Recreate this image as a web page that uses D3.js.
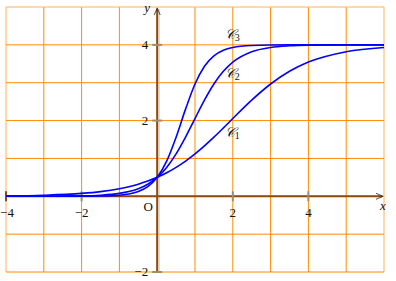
<!DOCTYPE html>
<html lang="en">
<head>
<meta charset="UTF-8">
<script src="https://d3js.org/d3.v7.min.js"></script>
<style>
  body { margin: 0; background: #fff; }
  text { font-family: "Liberation Serif", "DejaVu Serif", serif; font-size: 13px; fill: #111; }
  .grid line { stroke: #ff8c00; stroke-width: 1; }
  .curve { fill: none; stroke: #0000ff; stroke-width: 1.6; }
</style>
</head>
<body>
<svg id="chart" width="396" height="281"></svg>
<script>
const xs = [-4, -3, -2, -1.5, -1, -0.75, -0.5, -0.25, 0, 0.25, 0.5, 0.75, 1, 1.25, 1.5, 1.75, 2, 2.5, 3, 3.5, 4, 5, 6];
const c1 = [0.010, 0.028, 0.076, 0.124, 0.200, 0.253, 0.319, 0.401, 0.5, 0.620, 0.763, 0.929, 1.119, 1.331, 1.562, 1.805, 2.054, 2.540, 2.966, 3.302, 3.546, 3.820, 3.932];
const c2 = [0.000, 0.001, 0.010, 0.028, 0.076, 0.124, 0.200, 0.319, 0.5, 0.763, 1.119, 1.562, 2.054, 2.540, 2.966, 3.302, 3.546, 3.820, 3.932, 3.975, 3.991, 3.999, 4.000];
const c3 = [0.000, 0.000, 0.001, 0.006, 0.028, 0.059, 0.124, 0.253, 0.5, 0.929, 1.562, 2.302, 2.966, 3.435, 3.711, 3.858, 3.932, 3.985, 3.997, 3.999, 4.000, 4.000, 4.000];
const curveNames = ["1", "2", "3"];
const xTicks = [-4, -2, 2, 4];
const yTicks = [-2, 2, 4];

const svg = d3.select("#chart");
const x = d3.scaleLinear().domain([-4, 6]).range([6, 384]);
const y = d3.scaleLinear().domain([-2, 5]).range([272, 7]);
const brown = "#8b4a10";

// grid
const grid = svg.append("g").attr("class", "grid");
grid.selectAll("line.v").data(d3.range(-4, 7)).join("line")
  .attr("class", "v")
  .attr("x1", d => x(d)).attr("x2", d => x(d))
  .attr("y1", y(-2)).attr("y2", y(5))
  .style("stroke", d => (d === -4 || d === 6) ? "#ffb060" : null);
grid.selectAll("line.h").data(d3.range(-2, 6)).join("line")
  .attr("class", "h")
  .attr("y1", d => y(d)).attr("y2", d => y(d))
  .attr("x1", x(-4)).attr("x2", x(6))
  .style("stroke", d => (d === 5) ? "#ffb060" : null);

// axes
svg.append("line").attr("x1", x(0) + 2).attr("x2", x(0) + 2)
  .attr("y1", y(-2)).attr("y2", y(5) + 2)
  .attr("stroke", "#ccc").attr("stroke-width", 1);
svg.append("line").attr("x1", x(-4)).attr("x2", x(6) - 2)
  .attr("y1", y(0)).attr("y2", y(0))
  .attr("stroke", brown).attr("stroke-width", 2);
svg.append("line").attr("x1", x(0)).attr("x2", x(0))
  .attr("y1", y(-2)).attr("y2", y(5) + 2)
  .attr("stroke", brown).attr("stroke-width", 2);

// arrow heads
svg.append("path")
  .attr("d", `M${x(0) - 3},${y(5) + 8} L${x(0)},${y(5) + 1} L${x(0) + 3},${y(5) + 8}`)
  .attr("fill", "none").attr("stroke", "#222").attr("stroke-width", 0.8);
svg.append("path")
  .attr("d", `M${x(6) - 8},${y(0) - 3} L${x(6) - 1},${y(0)} L${x(6) - 8},${y(0) + 3}`)
  .attr("fill", "none").attr("stroke", "#222").attr("stroke-width", 0.8);

// tick marks
svg.selectAll("line.xt").data(xTicks).join("line")
  .attr("x1", d => x(d)).attr("x2", d => x(d))
  .attr("y1", y(0) - 5).attr("y2", y(0) + 5)
  .attr("stroke", d => d === -4 ? brown : "#a08a70").attr("stroke-width", 2);
svg.selectAll("line.yt").data(yTicks).join("line")
  .attr("y1", d => y(d)).attr("y2", d => y(d))
  .attr("x1", x(0) - 5).attr("x2", x(0) + 5)
  .attr("stroke", "#a08a70").attr("stroke-width", 2);

// tick labels
const fmt = d => d < 0 ? "\u2212" + Math.abs(d) : String(d);
svg.selectAll("text.xl").data(xTicks).join("text")
  .attr("x", d => x(d) + (d === -4 ? 1 : 0)).attr("y", y(0) + 21)
  .attr("text-anchor", "middle").text(fmt);
svg.selectAll("text.yl").data(yTicks).join("text")
  .attr("x", x(0) - 9).attr("y", d => y(d) + 4)
  .attr("text-anchor", "end").text(fmt);
svg.append("text").attr("x", x(0) - 9).attr("y", y(0) + 15)
  .attr("text-anchor", "middle").text("O");
svg.append("text").attr("x", x(6) - 1).attr("y", y(0) + 14)
  .attr("text-anchor", "middle").style("font-style", "italic").text("x");
svg.append("text").attr("x", x(0) - 10).attr("y", y(5) + 5)
  .attr("text-anchor", "middle").style("font-style", "italic").text("y");

// curve labels
const labelPos = [[2, 1.68], [2, 3.22], [2, 4.25]];
curveNames.forEach((n, i) => {
  const t = svg.append("text")
    .attr("x", x(labelPos[i][0]) - 8).attr("y", y(labelPos[i][1]) + 4)
    .style("font-size", "14px").style("font-style", "italic");
  t.append("tspan").text("\u{1D49E}");
  t.append("tspan").attr("dy", 2).style("font-size", "10px").style("font-style", "normal").text(n);
});

// curves
const line = d3.line().x(d => x(d[0])).y(d => y(d[1])).curve(d3.curveMonotoneX);
[c1, c2, c3].forEach(vals => {
  svg.append("path").attr("class", "curve")
    .attr("d", line(xs.map((v, i) => [v, vals[i]])));
});
</script>
</body>
</html>
